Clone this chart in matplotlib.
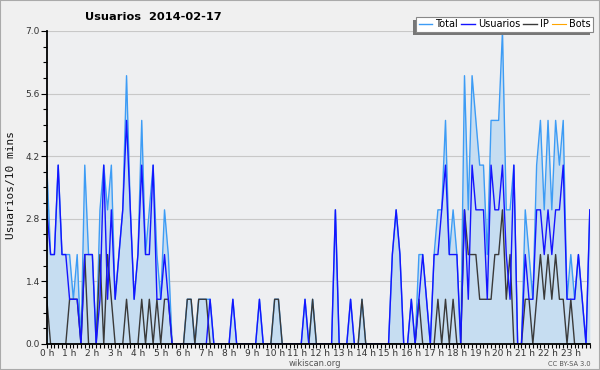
import numpy as np
import matplotlib
matplotlib.use('Agg')
from matplotlib import pyplot as plt
from matplotlib.patches import Rectangle

# values per 10 minutes, 144 slots for 2014-02-17
usuarios = [3, 2, 2, 4, 2, 2, 1, 1, 1, 0,
            2, 2, 2, 0, 1, 4, 1, 3, 1, 2,
            3, 5, 3, 1, 2, 4, 2, 2, 4, 1,
            1, 2, 1, 0, 0, 0, 0, 0, 0, 0,
            0, 0, 0, 1, 0, 0, 0, 0, 0, 1,
            0, 0, 0, 0, 0, 0, 1, 0, 0, 0,
            0, 0, 0, 0, 0, 0, 0, 0, 1, 0,
            0, 0, 0, 0, 0, 0, 3, 0, 0, 0,
            1, 0, 0, 0, 0, 0, 0, 0, 0, 0,
            0, 2, 3, 2, 0, 0, 1, 0, 1, 2,
            1, 0, 2, 2, 3, 4, 2, 2, 2, 0,
            3, 1, 4, 3, 3, 3, 1, 4, 3, 3,
            4, 2, 1, 4, 0, 0, 2, 1, 1, 3,
            3, 2, 3, 2, 3, 3, 4, 1, 1, 1,
            2, 1, 0, 3]
ip = [1, 0, 0, 0, 0, 0, 1, 1, 1, 0,
      2, 0, 0, 0, 2, 0, 2, 1, 0, 0,
      0, 1, 0, 0, 0, 1, 0, 1, 0, 1,
      0, 1, 1, 0, 0, 0, 0, 1, 1, 0,
      1, 1, 1, 0, 0, 0, 0, 0, 0, 0,
      0, 0, 0, 0, 0, 0, 0, 0, 0, 0,
      1, 1, 0, 0, 0, 0, 0, 0, 0, 0,
      1, 0, 0, 0, 0, 0, 0, 0, 0, 0,
      0, 0, 0, 1, 0, 0, 0, 0, 0, 0,
      0, 0, 0, 0, 0, 0, 0, 0, 1, 0,
      0, 0, 0, 1, 0, 1, 0, 1, 0, 0,
      3, 2, 2, 2, 1, 1, 1, 1, 2, 2,
      3, 1, 2, 0, 0, 0, 1, 1, 0, 1,
      2, 1, 2, 1, 2, 1, 1, 0, 1, 0,
      0, 0, 0, 0]
total = [4, 2, 2, 4, 2, 2, 2, 1, 2, 0,
         4, 2, 2, 0, 3, 4, 3, 4, 1, 2,
         3, 6, 3, 1, 2, 5, 2, 3, 4, 2,
         1, 3, 2, 0, 0, 0, 0, 1, 1, 0,
         1, 1, 1, 1, 0, 0, 0, 0, 0, 1,
         0, 0, 0, 0, 0, 0, 1, 0, 0, 0,
         1, 1, 0, 0, 0, 0, 0, 0, 1, 0,
         1, 0, 0, 0, 0, 0, 3, 0, 0, 0,
         1, 0, 0, 1, 0, 0, 0, 0, 0, 0,
         0, 2, 3, 2, 0, 0, 1, 0, 2, 2,
         1, 0, 2, 3, 3, 5, 2, 3, 2, 0,
         6, 3, 6, 5, 4, 4, 2, 5, 5, 5,
         7, 3, 3, 4, 0, 0, 3, 2, 1, 4,
         5, 3, 5, 3, 5, 4, 5, 1, 2, 1,
         2, 1, 0, 3]
bots = [0] * 144
hourLabels = ['%d h' % h for h in range(24)]
yTicks = [0.0, 1.4, 2.8, 4.2, 5.6, 7.0]

hours = np.arange( len( total ) ) / 6.0

figure = plt.figure( figsize = ( 6, 3.7 ), dpi = 100 )
figure.patch.set_facecolor( '#f0f0f0' )
axes = figure.add_axes( [ 0.078, 0.0703, 0.905, 0.846 ] )
axes.set_facecolor( '#eeeff1' )

axes.plot( hours, bots, color = '#ffa500', lw = 0.8, zorder = 0.5, label = 'Bots' )
axes.fill_between( hours, total, 0, color = '#c6ddf1', lw = 0, zorder = 1 )
axes.plot( hours, total, color = '#3d9cf5', lw = 1, zorder = 3, label = 'Total' )
axes.plot( hours, ip, color = '#3a3a3a', lw = 1, zorder = 4, label = 'IP' )
axes.plot( hours, usuarios, color = '#1414ff', lw = 1, zorder = 5, label = 'Usuarios' )

axes.set_xlim( 0, hours[ -1 ] )
axes.set_ylim( 0, 7.0 )
axes.set_yticks( yTicks )
axes.set_yticklabels( [ '%.1f' % v for v in yTicks ] )
axes.set_yticks( np.arange( 0, 7.01, 0.35 ), minor = True )
axes.set_xticks( range( 24 ) )
axes.set_xticklabels( hourLabels )
axes.set_xticks( hours, minor = True )
axes.tick_params( axis = 'both', which = 'both', direction = 'out', colors = '#000000',
                  labelcolor = '#333333', labelsize = 6.5, width = 0.8 )
axes.tick_params( axis = 'y', which = 'major', length = 4, pad = 1 )
axes.tick_params( axis = 'y', which = 'minor', length = 3 )
axes.tick_params( axis = 'x', which = 'major', length = 3, pad = 0.5 )
axes.tick_params( axis = 'x', which = 'minor', length = 3 )
axes.grid( axis = 'y', color = '#c8c8c8', lw = 0.8, zorder = 0 )
axes.set_axisbelow( True )
for side in [ 'top', 'right' ]:
    axes.spines[ side ].set_visible( False )
for side in [ 'left', 'bottom' ]:
    axes.spines[ side ].set_linewidth( 1.3 )
    axes.spines[ side ].set_zorder( 6 )

figure.text( 0.142, 0.953, 'Usuarios  2014-02-17', fontsize = 8.2, fontweight = 'bold', ha = 'left', va = 'center' )
figure.text( 0.018, 0.5, 'Usuarios/10 mins', fontsize = 8, family = 'DejaVu Sans Mono', rotation = 90,
             ha = 'center', va = 'center', color = '#111111' )
figure.text( 0.525, 0.017, 'wikiscan.org', fontsize = 6, color = '#555555', ha = 'center', va = 'center' )
figure.text( 0.985, 0.016, 'CC BY-SA 3.0', fontsize = 4.8, color = '#555555', ha = 'right', va = 'center' )

handles, labels = axes.get_legend_handles_labels()
order = [ labels.index( name ) for name in [ 'Total', 'Usuarios', 'IP', 'Bots' ] ]
legend = figure.legend( [ handles[ k ] for k in order ], [ labels[ k ] for k in order ],
                        ncol = 4, loc = 'upper right', bbox_to_anchor = ( 0.988, 0.955 ),
                        fontsize = 7, frameon = True, fancybox = False, framealpha = 1,
                        edgecolor = '#888888', handlelength = 1.4, handletextpad = 0.3,
                        columnspacing = 0.35, borderpad = 0.25, borderaxespad = 0 )
legend.get_frame().set_linewidth( 0.8 )
legend.set_zorder( 10 )

figure.canvas.draw()
box = legend.get_window_extent()
shadow = Rectangle( ( box.x0 - 3, box.y0 - 3 ), box.width, box.height, transform = None,
                    facecolor = '#777777', edgecolor = 'none', zorder = 9 )
figure.patches.append( shadow )
border = Rectangle( ( 0, 0 ), 1, 1, transform = figure.transFigure, fill = False,
                    edgecolor = '#aaaaaa', lw = 1.5, zorder = 20 )
figure.patches.append( border )

figure.savefig( 'out.png', dpi = 100, facecolor = figure.get_facecolor() )
